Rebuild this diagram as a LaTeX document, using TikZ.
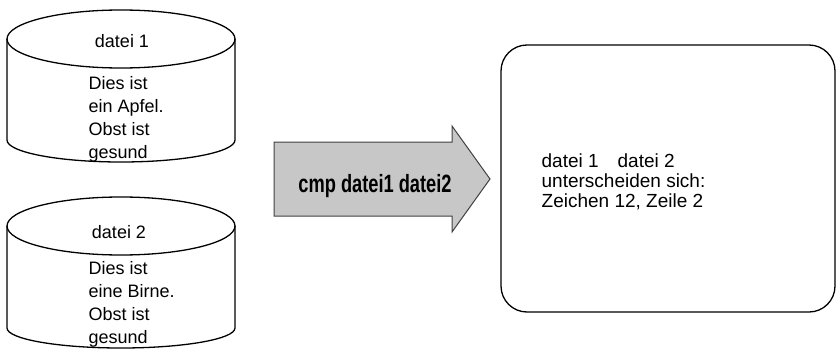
\documentclass[tikz,border=0pt]{standalone}
\usepackage{fontspec}
\setmainfont{Liberation Sans}
\newfontfamily\cmdfont[FakeStretch=0.73]{Liberation Sans}
\usepackage{tikz}
\usetikzlibrary{arrows.meta}

\begin{document}
\begin{tikzpicture}[x=1pt,y=-1pt,line width=1.3pt,
  every node/.style={font=\fontsize{18}{22.7}\selectfont,inner sep=0pt}]
\useasboundingbox(0,0)rectangle(837,350);
% datei 1
\draw(7,39)--(7,140)arc[start angle=180,end angle=360,x radius=114pt,y radius=22pt]--(235,39);
\draw(121,39)ellipse[x radius=114pt,y radius=29pt];
\node(name1)at(122,48)[anchor=base]{datei 1};
\node(text1)at(88,158)[anchor=base west,align=left]{Dies ist\\ein Apfel.\\Obst ist\\gesund};
% datei 2
\draw(7,226)--(7,328)arc[start angle=180,end angle=360,x radius=114pt,y radius=20pt]--(235,226);
\draw(121,226)ellipse[x radius=114pt,y radius=29pt];
\node(name2)at(119,238)[anchor=base]{datei 2};
\node(text2)at(88,343)[anchor=base west,align=left]{Dies ist\\eine Birne.\\Obst ist\\gesund};
% Kommando
\draw[fill=black!22,draw=black!75,line width=1pt](274,142)--(452,142)--(452,126)--(490,179)
  --(452,232)--(452,216)--(274,216)--cycle;
\node(cmd)at(375,186){\cmdfont\bfseries\fontsize{25}{25}\selectfont cmp datei1 datei2};
% Ergebnis
\draw[rounded corners=26pt](501,45)rectangle(835,312);
\node(diff)at(541,207)[anchor=base west,align=left,font=\fontsize{19}{20}\selectfont]
  {datei 1\quad datei 2\\unterscheiden sich:\\Zeichen 12, Zeile 2};
\end{tikzpicture}
\end{document}
